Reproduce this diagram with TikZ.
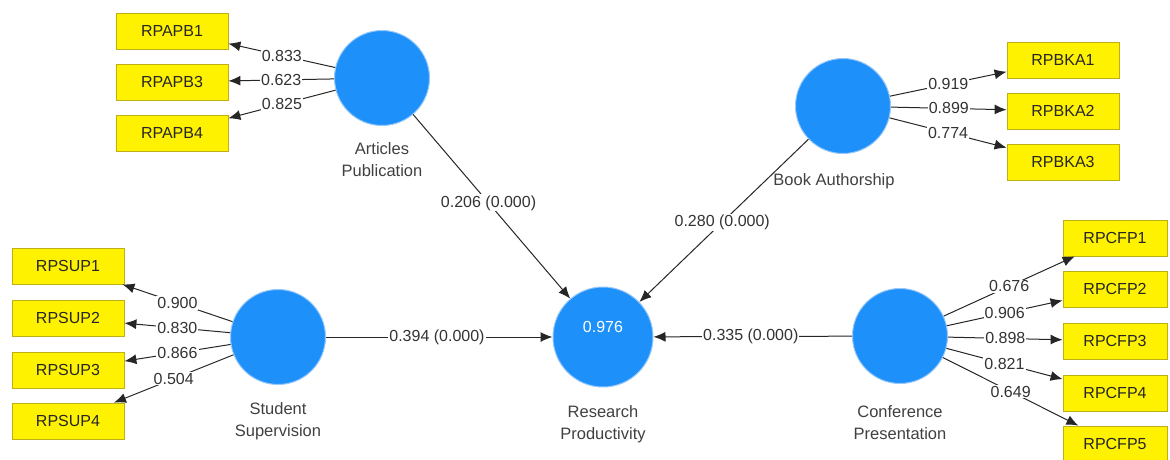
\documentclass[tikz,border=0pt]{standalone}
\usepackage{fontspec}
\setmainfont{Liberation Sans}
\usetikzlibrary{arrows.meta}
\definecolor{lvblue}{RGB}{30,144,250}
\definecolor{lvedge}{RGB}{150,200,250}
\definecolor{mvedge}{RGB}{190,175,20}
\newcommand{\fsmallsz}{\fontsize{16}{19}\selectfont}
\newcommand{\flatsz}{\fontsize{16.5}{22}\selectfont}
\tikzset{
  lv/.style={circle, fill=lvblue, draw=lvedge, line width=1pt, minimum size=95pt, inner sep=0pt},
  mv/.style={rectangle, fill=yellow, draw=mvedge, line width=0.8pt, minimum width=112pt, minimum height=36pt, inner sep=0pt, font=\fsmallsz, text=black!85},
  con/.style={draw=black!85, line width=1pt, -{Latex[length=12pt,width=10pt]}},
  wt/.style={fill=white, inner sep=1pt, font=\fsmallsz, text=black!80},
  latname/.style={align=center, font=\flatsz, text=black!75}
}
\begin{document}
\begin{tikzpicture}[x=1pt,y=-1pt]
\useasboundingbox (0,0) rectangle (1170,459);
% latent variables
\node[lv] (AP) at (382,78) {};
\node[lv] (BA) at (843,106) {};
\node[lv] (SS) at (278,337) {};
\node[lv] (CP) at (900,336) {};
\node[lv, minimum size=100pt] (RP) at (603,337) {};
\node[font=\fsmallsz, text=white] (RPval) at (603,327) {0.976};
% latent names
\node[latname] (APn) at (382,160) {Articles\\Publication};
\node[latname] (BAn) at (834,181) {Book Authorship};
\node[latname] (SSn) at (278,421) {Student\\Supervision};
\node[latname] (RPn) at (603,424) {Research\\Productivity};
\node[latname] (CPn) at (900,423) {Conference\\Presentation};
% indicators
\node[mv] (APB1) at (172,31) {RPAPB1};
\node[mv] (APB3) at (172,82) {RPAPB3};
\node[mv] (APB4) at (172,133) {RPAPB4};
\node[mv] (BKA1) at (1063,60) {RPBKA1};
\node[mv] (BKA2) at (1063,111) {RPBKA2};
\node[mv] (BKA3) at (1063,162) {RPBKA3};
\node[mv] (SUP1) at (68,266) {RPSUP1};
\node[mv] (SUP2) at (68,318) {RPSUP2};
\node[mv] (SUP3) at (68,370) {RPSUP3};
\node[mv] (SUP4) at (68,421) {RPSUP4};
\node[mv, minimum width=104pt] (CFP1) at (1115,238) {RPCFP1};
\node[mv, minimum width=104pt] (CFP2) at (1115,289) {RPCFP2};
\node[mv, minimum width=104pt] (CFP3) at (1115,341) {RPCFP3};
\node[mv, minimum width=104pt] (CFP4) at (1115,393) {RPCFP4};
\node[mv, minimum width=104pt] (CFP5) at (1115,444) {RPCFP5};
% outer loadings
\draw[con] (AP) -- node[wt, pos=0.5] {0.833} (APB1);
\draw[con] (AP) -- node[wt, pos=0.5] {0.623} (APB3);
\draw[con] (AP) -- node[wt, pos=0.5] {0.825} (APB4);
\draw[con] (BA) -- node[wt, pos=0.5] {0.919} (BKA1);
\draw[con] (BA) -- node[wt, pos=0.5] {0.899} (BKA2);
\draw[con] (BA) -- node[wt, pos=0.5] {0.774} (BKA3);
\draw[con] (SS) -- node[wt, pos=0.5] {0.900} (SUP1);
\draw[con] (SS) -- node[wt, pos=0.5] {0.830} (SUP2);
\draw[con] (SS) -- node[wt, pos=0.5] {0.866} (SUP3);
\draw[con] (SS) -- node[wt, pos=0.5] {0.504} (SUP4);
\draw[con] (CP) -- node[wt, pos=0.5] {0.676} (CFP1);
\draw[con] (CP) -- node[wt, pos=0.5] {0.906} (CFP2);
\draw[con] (CP) -- node[wt, pos=0.5] {0.898} (CFP3);
\draw[con] (CP) -- node[wt, pos=0.5] {0.821} (CFP4);
\draw[con] (CP) -- node[wt, pos=0.5] {0.649} (CFP5);
% structural paths
\draw[con] (AP) -- node[wt, pos=0.48] {0.206 (0.000)} (RP);
\draw[con] (BA) -- node[wt, pos=0.51] {0.280 (0.000)} (RP);
\draw[con] (SS) -- node[wt, pos=0.49] {0.394 (0.000)} (RP);
\draw[con] (CP) -- node[wt, pos=0.51] {0.335 (0.000)} (RP);
\end{tikzpicture}
\end{document}
